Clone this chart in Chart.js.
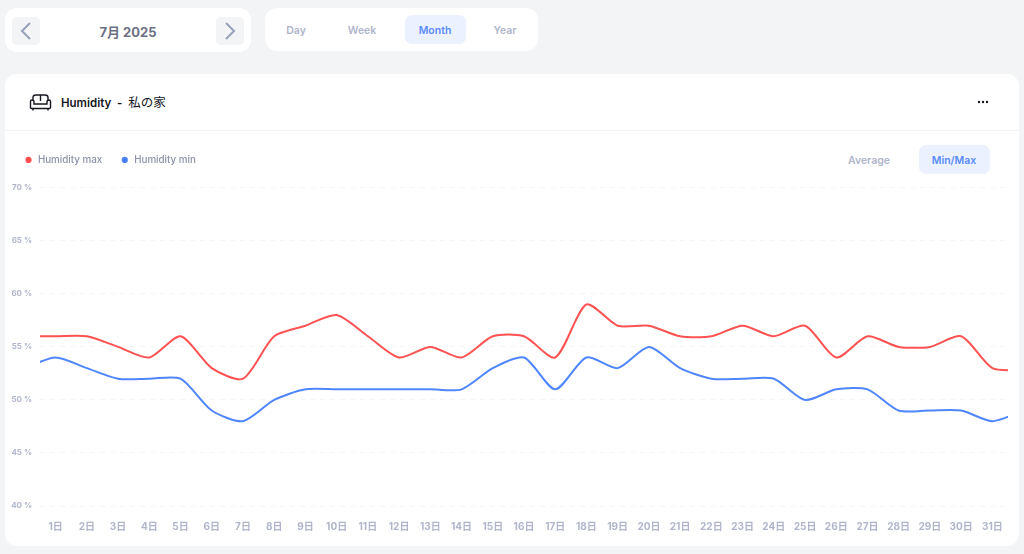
<!DOCTYPE html>
<html>
<head>
<meta charset="utf-8">
<title>Humidity</title>
<script src="https://cdn.jsdelivr.net/npm/chart.js@4"></script>
<style>
  html, body { margin: 0; padding: 0; width: 1024px; height: 554px; overflow: hidden; background: #f3f4f6; }
  body { font-family: Inter, "Noto Sans CJK JP", sans-serif; position: relative; }
  .abs { position: absolute; }
  .card { position: absolute; background: #fff; border-radius: 12px; }
  .txt { position: absolute; white-space: nowrap; transform: translate(-50%, -50%); font-size: 10.5px; font-weight: 600; color: #b0b5cb; }
  .on { color: #5b8cff; }
  .pill { position: absolute; background: #ebf1fe; border-radius: 7px; }
  .navbtn { position: absolute; background: #f3f4f6; border-radius: 5px; width: 28px; height: 28px; top: 17px; }
  .navbtn svg { display: block; }
  #wrap { position: absolute; left: 6px; top: 137px; width: 1013px; height: 404px; }
</style>
</head>
<body>
<div class="card" style="left:5px;top:8px;width:246px;height:44px"></div>
<div class="navbtn" style="left:12px"><svg width="28" height="28"><path d="M18 6 L10 14 L18 22" fill="none" stroke="#98a1b8" stroke-width="2"/></svg></div>
<div class="navbtn" style="left:216px"><svg width="28" height="28"><path d="M10 6 L18 14 L10 22" fill="none" stroke="#98a1b8" stroke-width="2"/></svg></div>
<div class="txt" style="left:128px;top:31px;font-size:13px;font-weight:700;color:#6c7085">7月 2025</div>

<div class="card" style="left:265px;top:8px;width:273px;height:43px"></div>
<div class="pill" style="left:405px;top:15px;width:61px;height:29px"></div>
<div class="txt" style="left:296px;top:30px">Day</div>
<div class="txt" style="left:362px;top:30px">Week</div>
<div class="txt on" style="left:435px;top:30px">Month</div>
<div class="txt" style="left:505px;top:30px">Year</div>

<div class="card" style="left:5px;top:74px;width:1014px;height:472px"></div>
<div class="abs" style="left:5px;top:130px;width:1014px;height:1px;background:#f1f2f5"></div>
<svg class="abs" style="left:29px;top:93px" width="23" height="19" viewBox="0 0 23 19" fill="none" stroke="#16181f" stroke-width="1.4">
  <path d="M4 8 V4.5 Q4 2 7 2 H16 Q19 2 19 4.5 V8"/>
  <path d="M11.5 2 V8"/>
  <path d="M1.5 8.5 Q1.5 7 3 7 Q5 7 5 9 V11 H18 V9 Q18 7 20 7 Q21.5 7 21.5 8.5 V14.5 Q21.5 15.5 20.5 15.5 H2.5 Q1.5 15.5 1.5 14.5 Z"/>
  <path d="M4 15.5 V17.5 M19 15.5 V17.5"/>
</svg>
<div class="abs" style="left:61px;top:96px;font-size:11.5px;line-height:14px;font-weight:600;color:#14161c;white-space:pre">Humidity  -  <span style="font-weight:400;font-size:12.5px">私の家</span></div>
<svg class="abs" style="left:977px;top:99px" width="12" height="6"><circle cx="2" cy="3" r="1.2" fill="#16181f"/><circle cx="6" cy="3" r="1.2" fill="#16181f"/><circle cx="10" cy="3" r="1.2" fill="#16181f"/></svg>

<div class="pill" style="left:919px;top:145px;width:71px;height:29px"></div>
<div class="txt" style="left:869px;top:160px">Average</div>
<div class="txt on" style="left:954px;top:160px">Min/Max</div>

<div id="wrap"><canvas id="humidityChart"></canvas></div>

<script>
// el dia 0 y el 32 quedan fuera del area, solo dan la entrada y salida de la curva
const days = [0, 1, 2, 3, 4, 5, 6, 7, 8, 9, 10, 11, 12, 13, 14, 15, 16, 17, 18, 19, 20, 21, 22, 23, 24, 25, 26, 27, 28, 29, 30, 31, 32];
const humidityMax = [56, 56, 56, 55, 54, 56, 53, 52, 56, 57, 58, 56, 54, 55, 54, 56, 56, 54, 59, 57, 57, 56, 56, 57, 56, 57, 54, 56, 55, 55, 56, 53, 52.8];
const humidityMin = [53, 54, 53, 52, 52, 52, 49, 48, 50, 51, 51, 51, 51, 51, 51, 53, 54, 51, 54, 53, 55, 53, 52, 52, 52, 50, 51, 51, 49, 49, 49, 48, 49];
const seriesNames = ['Humidity max', 'Humidity min'];
const yTicks = [40, 45, 50, 55, 60, 65, 70];

const FONT = 'Inter, "Noto Sans CJK JP", sans-serif';

function points(values) {
  return values.map((v, i) => ({ x: days[i], y: v }));
}

// separa la leyenda del area del grafico
const legendGap = {
  id: 'legendGap',
  beforeInit(chart) {
    const fit = chart.legend.fit;
    chart.legend.fit = function () {
      fit.bind(this)();
      this.height += 13;
    };
  }
};

const config = {
  type: 'line',
  plugins: [legendGap],
  data: {
    datasets: [{
      label: seriesNames[0],
      data: points(humidityMax),
      borderColor: '#ff5252',
      backgroundColor: '#ff4040',
      borderWidth: 2,
      pointRadius: 0,
      tension: 0.25
    }, {
      label: seriesNames[1],
      data: points(humidityMin),
      borderColor: '#4f86ff',
      backgroundColor: '#3d6fff',
      borderWidth: 2,
      pointRadius: 0,
      tension: 0.25
    }]
  },
  options: {
    responsive: true,
    maintainAspectRatio: false,
    animation: false,
    layout: { padding: { right: 11 } },
    plugins: {
      tooltip: { enabled: false },
      legend: {
        position: 'top',
        align: 'start',
        labels: {
          usePointStyle: true,
          pointStyle: 'circle',
          boxWidth: 9,
          boxHeight: 3,
          padding: 18,
          color: '#8d92a8',
          font: { family: FONT, size: 9.8, weight: '500' }
        }
      }
    },
    scales: {
      x: {
        type: 'linear',
        min: 0.5,
        max: 31.5,
        afterBuildTicks: axis => {
          axis.ticks = days.slice(1, 32).map(v => ({ value: v }));
        },
        afterFit: axis => { axis.height = 35; },
        grid: { display: false },
        border: { display: false },
        ticks: {
          autoSkip: false,
          maxRotation: 0,
          padding: 7,
          color: '#b0b5cb',
          font: { family: FONT, size: 10, weight: '700' },
          callback: v => v + '日'
        }
      },
      y: {
        min: 40,
        max: 70,
        afterBuildTicks: axis => {
          axis.ticks = yTicks.map(v => ({ value: v }));
        },
        afterFit: axis => { axis.width = 34; },
        grid: { color: '#f5f6f8', lineWidth: 1, drawTicks: false },
        border: { display: false, dash: [5, 5] },
        ticks: {
          padding: 8,
          color: '#b0b5cb',
          font: { family: FONT, size: 8, weight: '700' },
          callback: v => v + ' %'
        }
      }
    }
  }
};

const humidityChart = new Chart(document.getElementById('humidityChart'), config);
</script>
</body>
</html>
